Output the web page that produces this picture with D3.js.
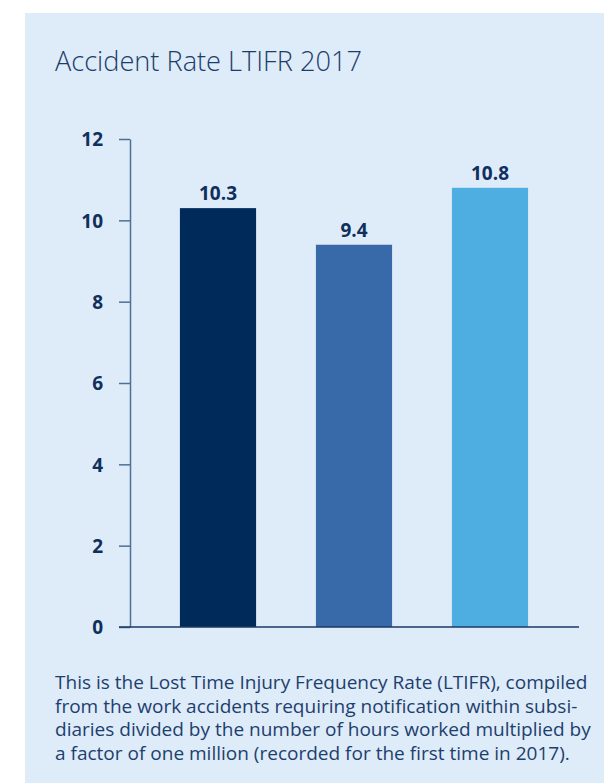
<!DOCTYPE html>
<html>
<head>
<meta charset="utf-8">
<script src="https://cdn.jsdelivr.net/npm/d3@7"></script>
<style>
  html, body { margin: 0; padding: 0; background: #ffffff; }
  svg { display: block; }
</style>
</head>
<body>
<svg id="chart" width="604" height="783"></svg>
<script>
const title = "Accident Rate LTIFR 2017";
const categories = ["A", "B", "C"];
const values = [10.3, 9.4, 10.8];
const valueLabels = ["10.3", "9.4", "10.8"];
const barColors = ["#002a5a", "#386aaa", "#4eaee2"];
const yTicks = [0, 2, 4, 6, 8, 10, 12];
const captionLines = [
  "This is the Lost Time Injury Frequency Rate (LTIFR), compiled",
  "from the work accidents requiring notification within subsi-",
  "diaries divided by the number of hours worked multiplied by",
  "a factor of one million (recorded for the first time in 2017)."
];

const svg = d3.select("#chart");
const font = "'Open Sans', 'Noto Sans', sans-serif";

svg.append("rect").attr("x", 25).attr("y", 13).attr("width", 579).attr("height", 770).attr("fill", "#deebf8");

// title, fitted to the reference width
const t = svg.append("text").attr("x", 55).attr("y", 71)
  .attr("font-family", font).attr("font-weight", 300).attr("font-size", 29)
  .attr("fill", "#1b3d6b").text(title);
{
  const w = t.node().getComputedTextLength();
  t.attr("font-size", 29 * 307 / w);
}

const x = d3.scaleBand().domain(categories).range([150, 558]).paddingInner(0.44).paddingOuter(0.22);
const y = d3.scaleLinear().domain([0, 12]).range([627, 139]);

// y axis
const yAxis = svg.append("g").attr("transform", "translate(130,0)")
  .call(d3.axisLeft(y).tickValues(yTicks).tickSize(11).tickSizeOuter(0).tickPadding(16).tickFormat(d3.format("d")));
yAxis.select(".domain").attr("stroke", "#4f6f95").attr("stroke-width", 1.5);
yAxis.selectAll(".tick line").attr("stroke", "#4f6f95").attr("stroke-width", 1.5);
yAxis.selectAll(".tick text").attr("font-family", font).attr("font-weight", 700)
  .attr("font-size", 19).attr("fill", "#0f2f5c").attr("dy", "0.36em");

// bars
svg.append("g").selectAll("rect").data(values).join("rect")
  .attr("x", (d, i) => x(categories[i]))
  .attr("width", x.bandwidth())
  .attr("y", d => y(d))
  .attr("height", d => y(0) - y(d))
  .attr("fill", (d, i) => barColors[i]);

// value labels
svg.append("g").selectAll("text").data(values).join("text")
  .attr("x", (d, i) => x(categories[i]) + x.bandwidth() / 2)
  .attr("y", d => y(d) - 8)
  .attr("text-anchor", "middle")
  .attr("font-family", font).attr("font-weight", 700).attr("font-size", 19)
  .attr("fill", "#0f2f5c")
  .text((d, i) => valueLabels[i]);

// x baseline
svg.append("line").attr("x1", 119).attr("x2", 579).attr("y1", y(0)).attr("y2", y(0))
  .attr("stroke", "#1a3a66").attr("stroke-width", 1.6);

// caption
const cap = svg.append("g").attr("font-family", font).attr("font-size", 16).attr("fill", "#1d3f6e");
const capBase = [689, 712.5, 736, 759.5];
const lines = cap.selectAll("text").data(captionLines).join("text")
  .attr("x", 55).attr("y", (d, i) => capBase[i]).text(d => d);
{
  const w = lines.nodes()[0].getComputedTextLength();
  cap.attr("font-size", 16 * 533 / w);
}
</script>
</body>
</html>
